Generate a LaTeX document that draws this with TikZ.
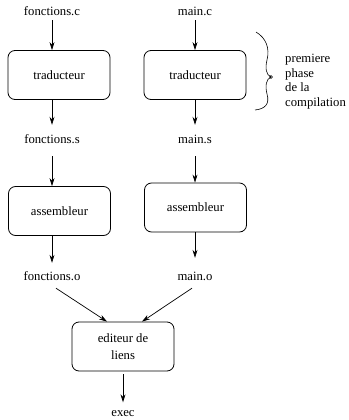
\documentclass[tikz,border=0pt]{standalone}
\usepackage{fontspec}
\setmainfont{Liberation Serif}
\usetikzlibrary{arrows.meta,calc}
\begin{document}
\begin{tikzpicture}[x=1pt,y=-1pt,
  every node/.style={font=\fontsize{12.7}{14.5}\selectfont},
  lbl/.style={inner sep=0pt,text height=8pt,text depth=2pt},
  proc/.style={draw,line width=0.8pt,rounded corners=7pt,minimum width=102pt,minimum height=49pt,inner sep=2pt,align=center},
  arr/.style={line width=0.7pt,-{Stealth[length=8pt,width=5pt,inset=2.5pt]}}]
\useasboundingbox (0,0) rectangle (348,420);
% left column
\node[lbl] (fc) at (52,13) {fonctions.c};
\node[proc] (t1) at (59,75) {traducteur};
\node[lbl] (fs) at (52,140) {fonctions.s};
\node[proc] (a1) at (59.5,211) {assembleur};
\node[lbl] (fo) at (52,277) {fonctions.o};
% right column
\node[lbl] (mc) at (195,13) {main.c};
\node[proc] (t2) at (195,75) {traducteur};
\node[lbl] (ms) at (195,140) {main.s};
\node[proc] (a2) at (195.5,207.5) {assembleur};
\node[lbl] (mo) at (195,277) {main.o};
% linker
\node[proc] (ed) at (123,346.5) {editeur de\\[2pt]liens};
\node[lbl] (ex) at (123,413.5) {exec};
% brace text
\node[inner sep=0pt,anchor=north west,align=left] (ph) at (285,54) {premiere\\phase\\de la\\compilation};
% arrows
\draw[arr,shorten <=2pt] (fc) -- (fc |- t1.north);
\draw[arr,shorten >=10pt] (fs |- t1.south) -- (fs);
\draw[arr,shorten <=11pt] (fs) -- (fs |- a1.north);
\draw[arr,shorten >=9pt] (fo |- a1.south) -- (fo);
\draw[arr,shorten <=2pt] (mc) -- (mc |- t2.north);
\draw[arr,shorten >=10pt] (ms |- t2.south) -- (ms);
\draw[arr,shorten <=11pt] (ms) -- (ms |- a2.north);
\draw[arr,shorten >=14pt] (mo |- a2.south) -- (mo);
\draw[arr] ($(fo.south)+(4,6)$) -- ($(ed.north)+(-16,0)$);
\draw[arr] ($(mo.south)+(-3,6)$) -- ($(ed.north)+(19,0)$);
\draw[arr,shorten <=3pt,shorten >=6pt] (ed) -- (ex);
% brace
\draw[line width=0.6pt] (256,32) .. controls (266,38) and (270,48) .. (267,60)
  .. controls (265,68) and (266,75) .. (271,77)
  .. controls (266,79) and (265,86) .. (267,94)
  .. controls (270,104) and (265,109) .. (255,110);
\draw[line width=0.5pt] (271,77) circle (1.5pt);
\end{tikzpicture}
\end{document}
